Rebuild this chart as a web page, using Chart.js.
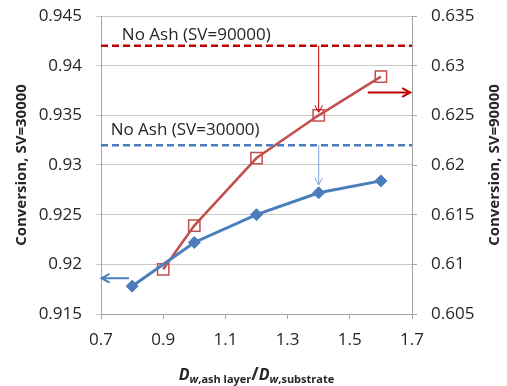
<!DOCTYPE html>
<html>
<head>
<meta charset="utf-8">
<script src="https://cdn.jsdelivr.net/npm/chart.js@4/dist/chart.umd.min.js"></script>
<style>
html,body{margin:0;padding:0;background:#fff;}
#wrap{width:507px;height:386px;position:relative;}
</style>
</head>
<body>
<div id="wrap"><canvas id="c"></canvas></div>
<script>
// ---- data ----
const ratioSV30000 = [0.8, 1.0, 1.2, 1.4, 1.6];
const convSV30000 = [0.9178, 0.9222, 0.9250, 0.9272, 0.9284];
const ratioSV90000 = [0.9, 1.0, 1.2, 1.4, 1.6];
const convSV90000 = [0.6095, 0.6139, 0.6207, 0.6250, 0.6289];
const noAshSV30000 = 0.932;   // left axis
const noAshSV90000 = 0.632;   // right axis
const xTicks = [0.7, 0.9, 1.1, 1.3, 1.5, 1.7];
const yLeftTicks = [0.915, 0.92, 0.925, 0.93, 0.935, 0.94, 0.945];
const yRightTicks = [0.605, 0.61, 0.615, 0.62, 0.625, 0.63, 0.635];
const leftTitle = 'Conversion, SV=30000';
const rightTitle = 'Conversion, SV=90000';
const label30000 = 'No Ash (SV=30000)';
const label90000 = 'No Ash (SV=90000)';

const BLUE = '#4a7ebb';
const RED = '#c0504d';
const DRED = '#c00000';
const TXT = '#262626';
const FONT = '"Open Sans", "Liberation Sans", sans-serif';

const pts = (xs, ys) => xs.map((x, i) => ({x: x, y: ys[i]}));
const span = (y) => [{x: xTicks[0], y: y}, {x: xTicks[xTicks.length - 1], y: y}];

function arrow(ctx, x1, y1, x2, y2, color, w, head) {
  ctx.save();
  ctx.strokeStyle = color;
  ctx.lineWidth = w;
  ctx.beginPath();
  ctx.moveTo(x1, y1); ctx.lineTo(x2, y2); ctx.stroke();
  const a = Math.atan2(y2 - y1, x2 - x1);
  ctx.beginPath();
  ctx.moveTo(x2 - head * Math.cos(a - 0.5), y2 - head * Math.sin(a - 0.5));
  ctx.lineTo(x2, y2);
  ctx.lineTo(x2 - head * Math.cos(a + 0.5), y2 - head * Math.sin(a + 0.5));
  ctx.stroke();
  ctx.restore();
}

const decor = {
  id: 'decor',
  afterDatasetsDraw(chart) {
    const ctx = chart.ctx;
    const X = chart.scales.x, L = chart.scales.yL, R = chart.scales.yR;
    ctx.save();
    ctx.fillStyle = TXT;
    ctx.font = '17px ' + FONT;
    ctx.textBaseline = 'middle';
    ctx.textAlign = 'left';
    ctx.fillText(label90000, X.getPixelForValue(0.767), L.getPixelForValue(0.9431));
    ctx.fillText(label30000, X.getPixelForValue(0.731), L.getPixelForValue(0.9335));
    ctx.restore();
    arrow(ctx, X.getPixelForValue(1.4), R.getPixelForValue(noAshSV90000), X.getPixelForValue(1.4), R.getPixelForValue(0.6253), DRED, 1, 8);
    arrow(ctx, X.getPixelForValue(1.4), L.getPixelForValue(noAshSV30000), X.getPixelForValue(1.4), L.getPixelForValue(0.928), '#7aa3d6', 1, 8);
    arrow(ctx, X.getPixelForValue(1.558), R.getPixelForValue(0.6273), X.getPixelForValue(1.694), R.getPixelForValue(0.6273), DRED, 2, 9);
    arrow(ctx, X.getPixelForValue(0.79), L.getPixelForValue(0.9186), X.getPixelForValue(0.702), L.getPixelForValue(0.9186), BLUE, 2, 9);
  },
  afterDraw(chart) {
    const ctx = chart.ctx;
    const a = chart.chartArea;
    const cy = (a.top + a.bottom) / 2;
    ctx.save();
    ctx.fillStyle = TXT;
    ctx.font = 'bold 15px ' + FONT;
    ctx.textAlign = 'center';
    ctx.textBaseline = 'middle';
    ctx.save(); ctx.translate(22, cy); ctx.rotate(-Math.PI / 2); ctx.fillText(leftTitle, 0, 0); ctx.restore();
    ctx.save(); ctx.translate(495, cy); ctx.rotate(-Math.PI / 2); ctx.fillText(rightTitle, 0, 0); ctx.restore();
    const parts = [
      {t: 'D', f: 'italic bold 16px ' + FONT, dy: 0},
      {t: 'w', f: 'italic bold 11px ' + FONT, dy: 3},
      {t: ',ash layer', f: 'bold 11px ' + FONT, dy: 3},
      {t: '/', f: 'bold 18px ' + FONT, dy: 0},
      {t: 'D', f: 'italic bold 16px ' + FONT, dy: 0},
      {t: 'w', f: 'italic bold 11px ' + FONT, dy: 3},
      {t: ',substrate', f: 'bold 11px ' + FONT, dy: 3}
    ];
    let total = 0;
    parts.forEach(p => { ctx.font = p.f; p.w = ctx.measureText(p.t).width; total += p.w; });
    let x = (a.left + a.right) / 2 - total / 2;
    const base = 380;
    ctx.textAlign = 'left';
    ctx.textBaseline = 'alphabetic';
    parts.forEach(p => { ctx.font = p.f; ctx.fillText(p.t, x, base + p.dy); x += p.w; });
    ctx.restore();
  }
};

const tickFont = {family: FONT, size: 17};
const fitY = (w) => (s) => { s.width = w; s.paddingTop = 8; s.paddingBottom = 8; };

new Chart(document.getElementById('c'), {
  type: 'line',
  data: {
    datasets: [
      {data: span(noAshSV90000), yAxisID: 'yR', borderColor: DRED, borderWidth: 2.5, borderDash: [7, 4], pointRadius: 0, fill: false},
      {data: span(noAshSV30000), yAxisID: 'yL', borderColor: BLUE, borderWidth: 2.5, borderDash: [7, 4], pointRadius: 0, fill: false},
      {data: pts(ratioSV30000, convSV30000), yAxisID: 'yL', borderColor: BLUE, borderWidth: 3,
        pointStyle: 'rectRot', pointRadius: 6, pointBackgroundColor: BLUE, pointBorderColor: BLUE, pointBorderWidth: 1, fill: false},
      {data: pts(ratioSV90000, convSV90000), yAxisID: 'yR', borderColor: RED, borderWidth: 2.5,
        pointStyle: 'rect', pointRadius: 8, pointBackgroundColor: 'rgba(255,255,255,0)', pointBorderColor: RED, pointBorderWidth: 1.5, fill: false}
    ]
  },
  options: {
    responsive: true,
    maintainAspectRatio: false,
    animation: false,
    layout: {padding: {top: 16, left: 0, right: 0, bottom: 0}},
    plugins: {legend: {display: false}, tooltip: {enabled: false}},
    scales: {
      x: {
        type: 'linear', position: 'bottom', min: 0.7, max: 1.7,
        afterBuildTicks: s => { s.ticks = xTicks.map(v => ({value: v})); },
        afterFit: s => { s.height = 72; },
        grid: {drawOnChartArea: false, drawTicks: true, tickLength: 5, color: '#a6a6a6'},
        border: {display: true, color: '#a6a6a6', width: 1},
        ticks: {font: tickFont, color: TXT, padding: 11, maxRotation: 0, callback: v => String(v)}
      },
      yL: {
        type: 'linear', position: 'left', min: 0.915, max: 0.945,
        afterBuildTicks: s => { s.ticks = yLeftTicks.map(v => ({value: v})); },
        afterFit: fitY(101),
        grid: {color: '#c8c8c8', tickLength: 5, drawTicks: true},
        border: {display: true, color: '#a6a6a6', width: 1},
        ticks: {font: tickFont, color: TXT, padding: 14, callback: v => String(v)}
      },
      yR: {
        type: 'linear', position: 'right', min: 0.605, max: 0.635,
        afterBuildTicks: s => { s.ticks = yRightTicks.map(v => ({value: v})); },
        afterFit: fitY(95),
        grid: {drawOnChartArea: false, tickLength: 5, drawTicks: true, color: '#a6a6a6'},
        border: {display: true, color: '#a6a6a6', width: 1},
        ticks: {font: tickFont, color: TXT, padding: 14, callback: v => String(v)}
      }
    }
  },
  plugins: [decor]
});
</script>
</body>
</html>
